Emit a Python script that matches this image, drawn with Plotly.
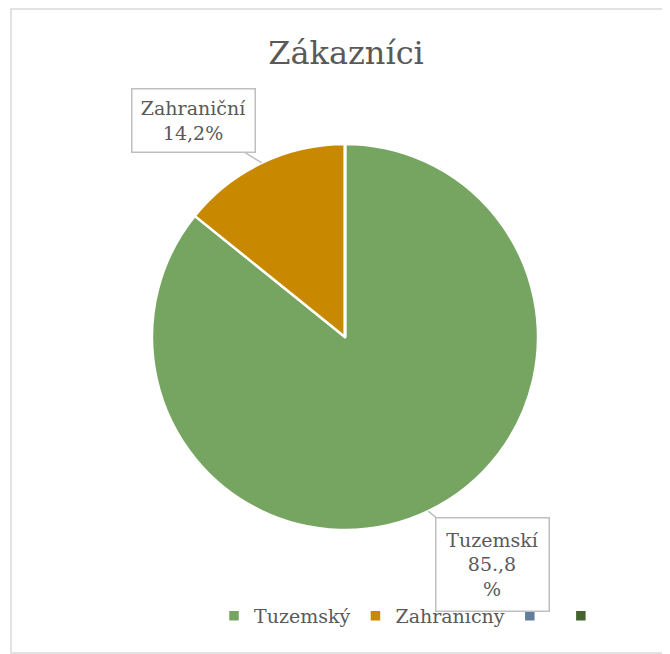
import math

import plotly.graph_objects as go

# chart data
categories = ['Tuzemský', 'Zahraničný', ' ', '  ']
values = [85.8, 14.2, 0, 0]
slice_colors = ['#76A561', '#C88800', '#627E9D', '#44632F']
label_texts = ['Tuzemskí<br>85.,8<br>%', 'Zahraniční<br>14,2%']

TITLE = 'Zákazníci'
FONT = 'DejaVu Serif'
TEXT_GREY = '#595959'

# the page body adds an 8px margin, so the figure is drawn 8px in
OFF = 8
W, H = 670 - OFF, 654 - OFF
CX, CY, R = 345 - OFF, 337 - OFF, 193  # pie centre / radius in pixels

fig = go.Figure(
    go.Pie(
        labels=categories,
        values=values,
        marker=dict(colors=slice_colors, line=dict(color='white', width=2.5)),
        sort=False,
        direction='clockwise',
        rotation=0,
        textinfo='none',
        domain=dict(
            x=[(CX - R) / W, (CX + R) / W],
            y=[(H - CY - R) / H, (H - CY + R) / H],
        ),
    )
)

# callout labels pointing at the middle of each slice edge
total = sum(values)
start = 0.0
offsets = [(64, 53, 110, 90), (-68, -42, 120, 60)]
for val, text, (ax, ay, bw, bh) in zip(values, label_texts, offsets):
    mid = (start + val / 2) / total * 2 * math.pi
    start += val
    px_ = CX + R * math.sin(mid)
    py_ = CY - R * math.cos(mid)
    fig.add_annotation(
        x=px_ / W, y=1 - py_ / H, xref='paper', yref='paper',
        text=text, ax=ax, ay=ay,
        showarrow=True, arrowhead=0, arrowwidth=1.5, arrowcolor='#BFBFBF',
        bordercolor='#BFBFBF', borderwidth=1.5, bgcolor='white',
        width=bw, height=bh,
        font=dict(family=FONT, size=19, color=TEXT_GREY),
    )

# chart frame
fig.add_shape(
    type='rect', xref='paper', yref='paper',
    x0=(11 - OFF) / W, x1=1.02, y0=1 / H, y1=1 - (9 - OFF) / H,
    line=dict(color='#D9D9D9', width=1.5),
)

fig.update_layout(
    width=W, height=H,
    margin=dict(l=0, r=0, t=0, b=0),
    paper_bgcolor='white',
    plot_bgcolor='white',
    font=dict(family=FONT, color=TEXT_GREY),
    title=dict(
        text=TITLE, x=(346 - OFF) / W, xanchor='center', y=1 - (53 - OFF) / H, yanchor='middle',
        font=dict(family=FONT, size=32, color=TEXT_GREY),
    ),
    showlegend=True,
    legend=dict(
        orientation='h', x=(416 - OFF) / W, xanchor='center', y=1 - (616 - OFF) / H,
        yanchor='middle',
        font=dict(family=FONT, size=19, color=TEXT_GREY),
        bgcolor='rgba(0,0,0,0)', itemwidth=30,
    ),
)

fig.write_html('out.html')
